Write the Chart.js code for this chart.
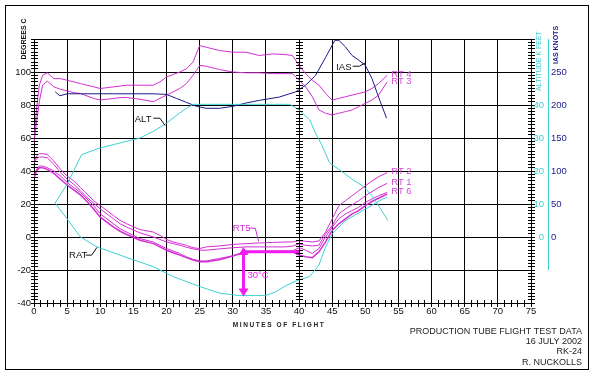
<!DOCTYPE html>
<html>
<head>
<meta charset="utf-8">
<script src="https://cdn.jsdelivr.net/npm/chart.js@4.4.1/dist/chart.umd.min.js"></script>
<style>
  html, body { margin: 0; padding: 0; background: #fff; }
  canvas { display: block; }
</style>
</head>
<body>
<canvas id="grafico" width="595" height="376"></canvas>
<script>
// sample times (minutes) shared by the RT probes
const minutes = [0, 0.4, 0.8, 1.3, 2, 3, 4, 5, 6, 7, 8, 9, 10, 11, 12, 13, 14, 16, 18, 19, 20, 21, 22, 23, 24, 25, 26, 28, 30, 32, 34, 36, 38, 39, 40, 41, 42, 43, 44, 45, 46, 47, 48, 49, 50, 51, 52, 53.3];

// degrees C
const rt4 = [60, 78, 92, 98, 99.5, 96, 96, 95, 94, 93, 92, 91, 90, 90.5, 91, 91.5, 92, 92, 92, 94, 97, 98.5, 100, 102, 106, 116, 115, 113, 112, 112, 110, 111, 110.5, 110, 104, 99, 95, 92, 87, 83, 84, 85, 86, 87, 88, 90, 93, 98];
const rt3 = [57, 70, 82, 92, 94.5, 91, 89.5, 88.5, 87.5, 87, 85.5, 84, 83, 83.5, 84, 84.5, 84.5, 83.5, 82, 84, 86, 88, 90, 93, 98, 104, 103.5, 101.5, 100, 99.5, 99.5, 99, 99, 99, 95, 91, 85, 77, 75, 74, 75, 76, 77, 79, 81, 83, 86, 94];
const rt2 = [46, 49, 50.5, 50.5, 50, 46, 41, 37, 34, 30, 26, 22, 19, 16, 13, 10, 8, 4.5, 3, 1, -1.5, -3, -4, -5, -6.5, -7, -6, -5.4, -4.5, -4, -3.6, -3.3, -3, -3, -2.2, -2.6, -3, -2.4, 3, 11, 19, 22, 25, 28, 31, 34, 36.5, 39];
const rt1 = [45, 47.5, 48.5, 48.5, 48, 44, 39, 35, 32, 28, 24, 20.5, 17, 14, 11, 8, 6, 2.5, 0, -1.5, -3, -4, -5, -6.2, -7.2, -8, -8, -7.2, -6.5, -6, -6, -6, -6, -5.5, -4.2, -5, -5.4, -5, 2, 7, 14, 17, 19.5, 22, 25, 27.5, 30, 32.5];
const rt6 = [37, 41, 43, 43, 42, 40, 37, 33, 30, 27, 23, 19, 14, 11, 8, 5, 3, -1, -3, -5, -7, -8.5, -10, -12, -13.5, -14.5, -14.5, -13, -11.4, -9, -8.7, -8.6, -8.5, -8.5, -6.5, -8, -10, -7, 0, 6, 11, 14, 16, 18, 21, 23, 25, 27];
const rt5 = [36, 40, 42, 42, 41, 38.5, 35, 31.5, 28.5, 25.5, 21.5, 17, 12, 9, 6, 3.5, 1.5, -2, -4, -6, -8, -9.5, -11, -12.5, -14, -15, -15, -13.8, -11.5, -9, -9, -9, -9, -9, -11, -12, -12.5, -9, -3, 4, 8, 11, 14, 16, 19, 21.5, 23.5, 26];

// indicated airspeed, knots
const iasMinutes = [3.2, 3.9, 5, 8, 12, 16, 18, 20, 21.5, 23, 24.5, 26, 28, 30, 32, 34, 37, 39.5, 41, 42.5, 44, 45.4, 46, 47, 48, 49, 50, 51, 52, 53.2];
const iasKnots = [220, 214, 217, 217, 217, 217, 217, 216, 210, 204, 198, 195, 195, 198, 203, 207, 212, 220, 230, 245, 272, 298, 298, 288, 275, 268, 260, 240, 212, 180];

// altitude, thousands of feet
const altMinutes = [3.2, 5, 7.2, 10, 12, 16, 18, 20, 21.6, 23, 24, 30, 35, 38.6, 40, 41.6, 42.6, 43.4, 44.6, 46, 48, 49.6, 51, 52, 53.4];
const altKft = [10.3, 16, 25, 27, 28, 30, 32, 34.5, 37, 39, 40.2, 40.2, 40.2, 40.2, 38.5, 35.5, 31, 28, 22.5, 20.5, 17.5, 15.5, 12.5, 9.5, 5];

// ram air temperature, degrees C
const ratMinutes = [3.2, 5, 7, 9.5, 13, 18, 21, 25, 28, 31, 35, 36.6, 38, 39.6, 41.6, 43, 44, 45, 47, 49.6, 52.6, 53.3];
const ratDeg = [20.5, 11, 0, -6, -11, -18, -24, -30, -34, -35.5, -35.5, -33, -29.5, -26.5, -24, -17, -6, 2, 10, 16, 23, 24];

// right-hand axis labels
const altTicks = [0, 10, 20, 30, 40];
const iasTicks = [0, 50, 100, 150, 200, 250];

const footer = ['PRODUCTION TUBE FLIGHT TEST DATA', '16 JULY 2002', 'RK-24', 'R. NUCKOLLS'];

// the 30 degree spread marker (minutes / degrees C)
const spread = { x: 31.5, top: -6, bottom: -36, level: -9, levelEnd: 40, text: '30°C' };

const fonte = '"Liberation Sans", Arial, sans-serif';
const magenta = '#d12fd1';
const rosa = '#f01cf0';
const ciano = '#3fd0d0';
const azul = '#1a1a8a';

// text callouts with leaders, in minutes / degrees C
const callouts = [
    { text: 'ALT', at: [15.2, 71], path: [[18.0, 72], [19.0, 72], [19.8, 67.5]], cor: '#111' },
    { text: 'IAS', at: [45.6, 103], path: [[48.1, 103.5], [49.1, 103.5], [50.0, 105.5]], cor: '#111' },
    { text: 'RAT', at: [5.3, -11], path: [[7.8, -11], [8.7, -11], [9.5, -6.3]], cor: '#111' },
    { text: 'RT5', at: [30.0, 5], path: [[32.4, 5.5], [33.4, 5.2], [33.9, -2.6]], cor: magenta }
];
const endLabels = [['RT 4', rt4], ['RT 3', rt3], ['RT 2', rt2], ['RT 1', rt1], ['RT 6', rt6]];

const serie = (label, xs, ys, cor, eixo = 'y', largura = 1) => ({
    label,
    data: xs.map((m, i) => ({ x: m, y: ys[i] })),
    borderColor: cor,
    borderWidth: largura,
    showLine: true,
    pointRadius: 0,
    tension: 0,
    yAxisID: eixo
});

const al = p => Math.round(p - 0.5) + 0.5;

const decor = {
    id: 'decor',
    afterDraw(chart) {
        const { ctx, chartArea: a } = chart;
        const { x, y, alt, ias } = chart.scales;
        ctx.save();

        // outer frame
        ctx.strokeStyle = '#000';
        ctx.lineWidth = 1;
        ctx.strokeRect(5.5, 5.5, 583, 364);

        // minor ticks on the bottom axis and on the three vertical axes
        ctx.beginPath();
        for (let m = 0; m <= 75; m++) {
            const px = al(x.getPixelForValue(m));
            ctx.moveTo(px, a.bottom - 3);
            ctx.lineTo(px, a.bottom + 4);
        }
        for (const m of [0, 40, 75]) {
            const px = Math.round(x.getPixelForValue(m));
            for (let d = -40; d <= 120; d += 2) {
                const py = al(y.getPixelForValue(d));
                ctx.moveTo(px - 3, py);
                ctx.lineTo(px + 4, py);
            }
        }
        ctx.stroke();

        // altitude / IAS axes
        ctx.strokeStyle = ciano;
        ctx.beginPath();
        ctx.moveTo(a.right + 17.5, alt.getPixelForValue(60));
        ctx.lineTo(a.right + 17.5, alt.getPixelForValue(-10));
        ctx.stroke();
        ctx.font = `9.5px ${fonte}`;
        ctx.textBaseline = 'middle';
        ctx.textAlign = 'right';
        ctx.fillStyle = ciano;
        altTicks.forEach(v => ctx.fillText(v, a.right + 13, alt.getPixelForValue(v)));
        ctx.textAlign = 'left';
        ctx.fillStyle = azul;
        iasTicks.forEach(v => ctx.fillText(v, a.right + 20, ias.getPixelForValue(v)));

        // rotated axis titles
        const vertical = (txt, cx, cy, cor, font) => {
            ctx.save();
            ctx.translate(cx, cy);
            ctx.rotate(-Math.PI / 2);
            ctx.fillStyle = cor;
            ctx.font = font;
            ctx.textAlign = 'center';
            ctx.textBaseline = 'middle';
            ctx.fillText(txt, 0, 0);
            ctx.restore();
        };
        vertical('DEGREES C', 24.5, 39, '#111', `bold 7px ${fonte}`);
        vertical('ALTITUDE K FEET', a.right + 8, 61, ciano, `7px ${fonte}`);
        vertical('IAS KNOTS', a.right + 25, 45, azul, `bold 7px ${fonte}`);

        // x title
        ctx.fillStyle = '#222';
        ctx.font = `bold 6.5px ${fonte}`;
        ctx.letterSpacing = '1.6px';
        ctx.textAlign = 'center';
        ctx.fillText('MINUTES OF FLIGHT', 279, 325);
        ctx.letterSpacing = '0px';

        // callouts
        ctx.font = `9.5px ${fonte}`;
        ctx.textAlign = 'left';
        ctx.lineWidth = 1;
        callouts.forEach(c => {
            ctx.fillStyle = ctx.strokeStyle = c.cor;
            ctx.fillText(c.text, x.getPixelForValue(c.at[0]), y.getPixelForValue(c.at[1]));
            ctx.beginPath();
            c.path.forEach(([m, d], i) => {
                const px = x.getPixelForValue(m), py = y.getPixelForValue(d);
                i ? ctx.lineTo(px, py) : ctx.moveTo(px, py);
            });
            ctx.stroke();
        });

        // labels at the end of the RT traces
        ctx.fillStyle = '#d84ad8';
        ctx.font = `9.5px ${fonte}`;
        endLabels.forEach(([txt, vals]) => {
            ctx.fillText(txt, x.getPixelForValue(minutes[minutes.length - 1]) + 4, y.getPixelForValue(vals[vals.length - 1]) - 1);
        });

        // 30 degree spread arrow
        const ax = Math.round(x.getPixelForValue(spread.x)) + 0.5;
        const yt = y.getPixelForValue(spread.top), yb = y.getPixelForValue(spread.bottom), yl = y.getPixelForValue(spread.level);
        ctx.strokeStyle = ctx.fillStyle = rosa;
        ctx.lineWidth = 3;
        ctx.beginPath();
        ctx.moveTo(ax, yl);
        ctx.lineTo(x.getPixelForValue(spread.levelEnd), yl);
        ctx.moveTo(ax, yt + 6);
        ctx.lineTo(ax, yb - 6);
        ctx.stroke();
        ctx.beginPath();
        ctx.moveTo(ax, yt); ctx.lineTo(ax - 5, yt + 8); ctx.lineTo(ax + 5, yt + 8); ctx.closePath();
        ctx.moveTo(ax, yb); ctx.lineTo(ax - 5, yb - 8); ctx.lineTo(ax + 5, yb - 8); ctx.closePath();
        ctx.fill();
        ctx.font = `9.5px ${fonte}`;
        ctx.fillText(spread.text, ax + 4, y.getPixelForValue(-23.5));

        // footer
        ctx.fillStyle = '#222';
        ctx.font = `9px ${fonte}`;
        ctx.textAlign = 'right';
        [332, 342, 352, 363].forEach((py, i) => ctx.fillText(footer[i], 582, py));

        ctx.restore();
    }
};

const ctx = document.getElementById('grafico').getContext('2d');
const grafico = new Chart(ctx, {
    type: 'scatter',
    data: {
        datasets: [
            serie('ALT', altMinutes, altKft, ciano, 'alt'),
            serie('RAT', ratMinutes, ratDeg, ciano),
            serie('IAS', iasMinutes, iasKnots, azul, 'ias'),
            serie('RT4', minutes, rt4, magenta),
            serie('RT3', minutes, rt3, magenta),
            serie('RT2', minutes, rt2, magenta),
            serie('RT1', minutes, rt1, magenta),
            serie('RT6', minutes, rt6, magenta),
            serie('RT5', minutes, rt5, magenta, 'y', 1.5)
        ]
    },
    plugins: [decor],
    options: {
        responsive: false,
        animation: false,
        layout: { padding: { left: 0, top: 39, right: 64, bottom: 0 } },
        plugins: {
            legend: { display: false },
            tooltip: { enabled: false }
        },
        scales: {
            x: {
                type: 'linear',
                min: 0,
                max: 75,
                afterFit: s => { s.height = 73; },
                grid: { color: '#000', drawTicks: false },
                border: { color: '#000' },
                ticks: { stepSize: 5, padding: 3, autoSkip: false, maxRotation: 0, color: '#111', font: { family: fonte, size: 9.5 } }
            },
            y: {
                type: 'linear',
                min: -40,
                max: 120,
                afterFit: s => { s.width = 34; },
                grid: { color: '#000', drawTicks: false },
                border: { color: '#000' },
                ticks: { stepSize: 20, padding: 3, color: '#111', font: { family: fonte, size: 9.5 },
                    callback: v => v === 120 ? '' : v }
            },
            alt: { type: 'linear', display: false, min: -20, max: 60 },
            ias: { type: 'linear', display: false, min: -100, max: 300 }
        }
    }
});
</script>
</body>
</html>
